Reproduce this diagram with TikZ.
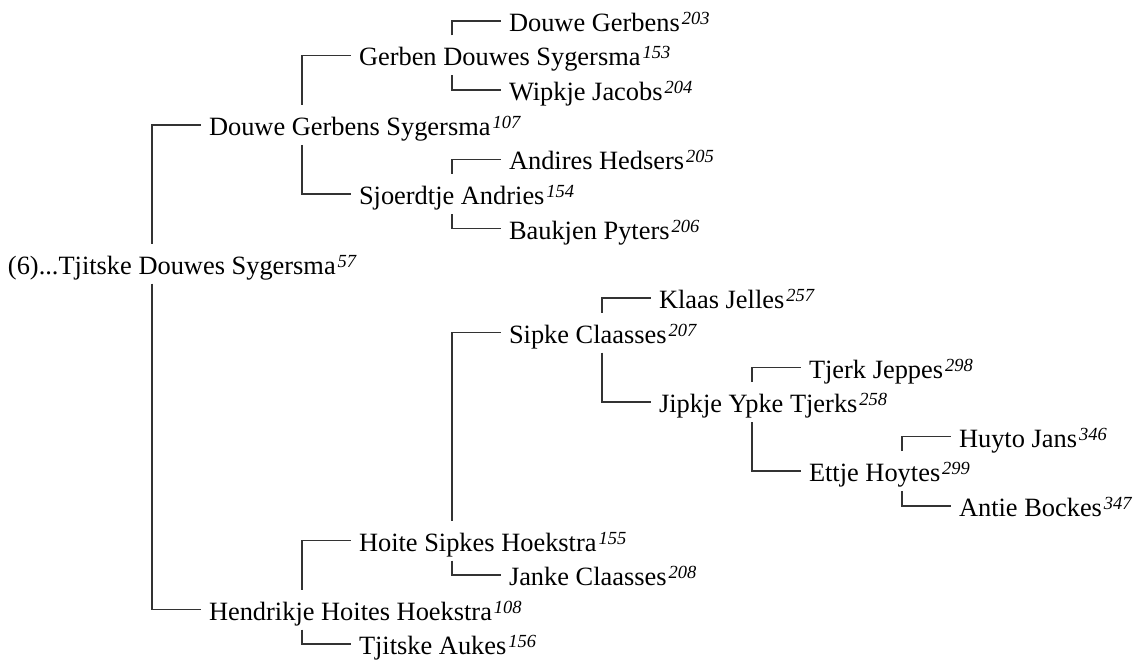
\documentclass[tikz,border=0pt]{standalone}
\usepackage{fontspec}
\setmainfont{Liberation Serif}
\newcommand{\pnum}[1]{\kern2pt\raisebox{7pt}{\fontsize{18.5}{18.5}\selectfont\itshape #1}}
\begin{document}
\begin{tikzpicture}[x=1pt,y=-1pt,
  person/.style={anchor=west, inner sep=0pt, outer sep=0pt, text height=21pt, text depth=0pt,
    minimum height=40pt, font=\fontsize{26.4}{30}\selectfont},
  link/.style={draw=black!80, line width=1.5pt}]
\useasboundingbox (0,0) rectangle (1138,666);
% column coordinates of the vertical connectors
\coordinate (v0) at (152,0);
\coordinate (v1) at (302,0);
\coordinate (v2) at (452,0);
\coordinate (v3) at (602,0);
\coordinate (v4) at (752,0);
\coordinate (v5) at (902,0);
% people
\node[person] (root) at (8,263.5) {(6)...Tjitske Douwes Sygersma\pnum{57}};
\node[person] (dgs) at (209,125) {Douwe Gerbens Sygersma\pnum{107}};
\node[person] (hhh) at (209,609.5) {Hendrikje Hoites Hoekstra\pnum{108}};
\node[person] (gds) at (359,55.5) {Gerben Douwes Sygersma\pnum{153}};
\node[person] (sa) at (359,194) {Sjoerdtje Andries\pnum{154}};
\node[person] (hsh) at (359,540.5) {Hoite Sipkes Hoekstra\pnum{155}};
\node[person] (ta) at (359,644) {Tjitske Aukes\pnum{156}};
\node[person] (dg) at (509,21) {Douwe Gerbens\pnum{203}};
\node[person] (wj) at (509,90) {Wipkje Jacobs\pnum{204}};
\node[person] (ah) at (509,159.5) {Andires Hedsers\pnum{205}};
\node[person] (bp) at (509,228.5) {Baukjen Pyters\pnum{206}};
\node[person] (sc) at (509,332.5) {Sipke Claasses\pnum{207}};
\node[person] (jc) at (509,575) {Janke Claasses\pnum{208}};
\node[person] (kj) at (659,298) {Klaas Jelles\pnum{257}};
\node[person] (jyt) at (659,402) {Jipkje Ypke Tjerks\pnum{258}};
\node[person] (tj) at (809,367.5) {Tjerk Jeppes\pnum{298}};
\node[person] (eh) at (809,471) {Ettje Hoytes\pnum{299}};
\node[person] (hj) at (959,436.5) {Huyto Jans\pnum{346}};
\node[person] (ab) at (959,506) {Antie Bockes\pnum{347}};
% connectors
\draw[link] (root.north -| v0) |- ([xshift=-8pt]dgs.west);
\draw[link] (root.south -| v0) |- ([xshift=-8pt]hhh.west);
\draw[link] (dgs.north -| v1) |- ([xshift=-8pt]gds.west);
\draw[link] (dgs.south -| v1) |- ([xshift=-8pt]sa.west);
\draw[link] (hhh.north -| v1) |- ([xshift=-8pt]hsh.west);
\draw[link] (hhh.south -| v1) |- ([xshift=-8pt]ta.west);
\draw[link] (gds.north -| v2) |- ([xshift=-8pt]dg.west);
\draw[link] (gds.south -| v2) |- ([xshift=-8pt]wj.west);
\draw[link] (sa.north -| v2) |- ([xshift=-8pt]ah.west);
\draw[link] (sa.south -| v2) |- ([xshift=-8pt]bp.west);
\draw[link] (hsh.north -| v2) |- ([xshift=-8pt]sc.west);
\draw[link] (hsh.south -| v2) |- ([xshift=-8pt]jc.west);
\draw[link] (sc.north -| v3) |- ([xshift=-8pt]kj.west);
\draw[link] (sc.south -| v3) |- ([xshift=-8pt]jyt.west);
\draw[link] (jyt.north -| v4) |- ([xshift=-8pt]tj.west);
\draw[link] (jyt.south -| v4) |- ([xshift=-8pt]eh.west);
\draw[link] (eh.north -| v5) |- ([xshift=-8pt]hj.west);
\draw[link] (eh.south -| v5) |- ([xshift=-8pt]ab.west);
\end{tikzpicture}
\end{document}
